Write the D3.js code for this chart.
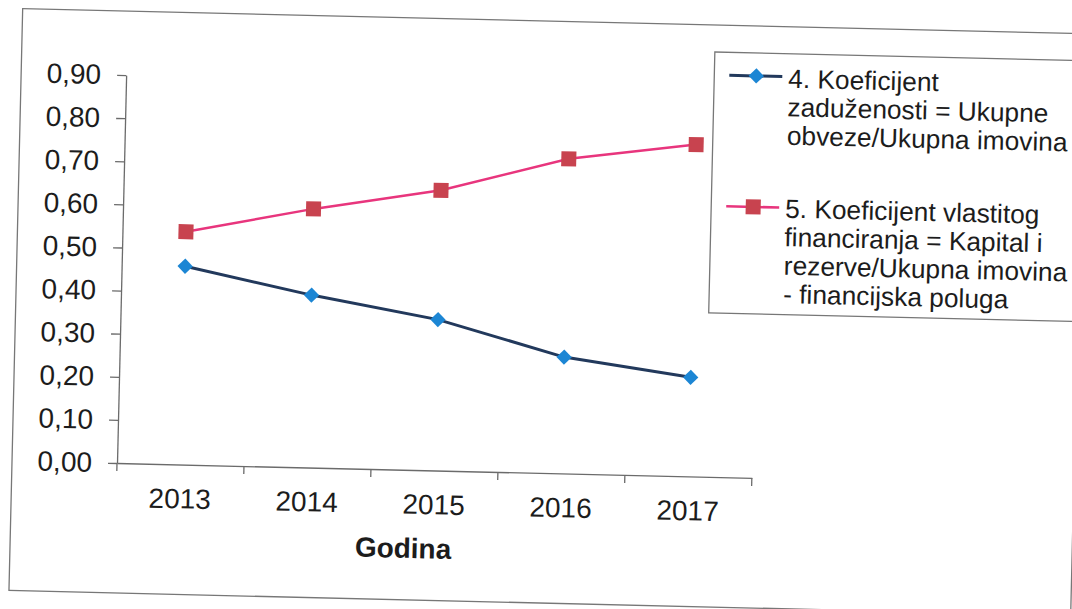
<!DOCTYPE html>
<html>
<head>
<meta charset="utf-8">
<script src="https://cdn.jsdelivr.net/npm/d3@7"></script>
<style>
    body { margin: 0; background: #ffffff; }
    svg { display: block; font-family: "Liberation Sans", Arial, sans-serif; }
    .axis path, .axis line { stroke: #6b6b6b; stroke-width: 1.3px; }
    .axis text { fill: #1c1c1c; font-size: 28px; }
</style>
</head>
<body>
<div id="chart"></div>
<script>
// Data
var years = ['2013', '2014', '2015', '2016', '2017'];
var zaduzenost = [0.46, 0.40, 0.35, 0.27, 0.23];       // 4. Koeficijent zaduzenosti
var vlastitoFin = [0.54, 0.60, 0.65, 0.73, 0.77];      // 5. Koeficijent vlastitog financiranja
var yTicks = [0, 0.1, 0.2, 0.3, 0.4, 0.5, 0.6, 0.7, 0.8, 0.9];
var legendLines = [
    ['4. Koeficijent', 'zaduženosti = Ukupne', 'obveze/Ukupna imovina'],
    ['5. Koeficijent vlastitog', 'financiranja = Kapital i', 'rezerve/Ukupna imovina', '- financijska poluga']
];
var xTitle = 'Godina';

var width = 1072, height = 609;
// plot area (before the page tilt of the scan)
var x0 = 117, x1 = 752, yBase = 463, yTop = 75;
var tilt = 1.35;

var hr = d3.formatLocale({ decimal: ',', thousands: '.', grouping: [3], currency: ['', ''] });
var fmt = hr.format('.2f');

var svg = d3.select('#chart').append('svg')
    .attr('width', width)
    .attr('height', height);

// whole sheet is slightly rotated, like the scan
var page = svg.append('g')
    .attr('transform', 'rotate(' + tilt + ',' + x0 + ',' + yBase + ')');

// outer chart frame
page.append('rect')
    .attr('x', 12).attr('y', 11)
    .attr('width', 1062).attr('height', 582)
    .attr('fill', 'none')
    .attr('stroke', '#777')
    .attr('stroke-width', 1.3);

var x = d3.scaleBand().domain(years).range([x0, x1]);
var y = d3.scaleLinear().domain([0, 0.9]).range([yBase, yTop]);

// y axis
page.append('g')
    .attr('class', 'axis')
    .attr('transform', 'translate(' + x0 + ',0)')
    .call(d3.axisLeft(y).tickValues(yTicks).tickFormat(fmt).tickSize(9).tickPadding(16).tickSizeOuter(0));

// x axis, ticks between categories like Excel
var xAxisG = page.append('g')
    .attr('class', 'axis')
    .attr('transform', 'translate(0,' + yBase + ')')
    .call(d3.axisBottom(x).tickSize(0).tickPadding(24).tickSizeOuter(0));
xAxisG.selectAll('.tick text').attr('dy', '0.71em');
xAxisG.selectAll('.sep')
    .data(d3.range(years.length + 1))
    .enter()
    .append('line')
        .attr('class', 'sep')
        .attr('x1', function(d) { return x0 + d * x.bandwidth(); })
        .attr('x2', function(d) { return x0 + d * x.bandwidth(); })
        .attr('y1', 0)
        .attr('y2', 8);

page.append('text')
    .attr('x', 405)
    .attr('y', 551)
    .attr('text-anchor', 'middle')
    .attr('font-size', 28)
    .attr('font-weight', 'bold')
    .attr('fill', '#1c1c1c')
    .text(xTitle);

function cx(d, i) { return x(years[i]) + x.bandwidth() / 2; }

var series = [
    { values: zaduzenost, line: '#22395c', fill: '#1c86d4', width: 3, marker: d3.symbolDiamond2, size: 150 },
    { values: vlastitoFin, line: '#e8357d', fill: '#c8434f', width: 2.5, marker: d3.symbolSquare, size: 225 }
];

var lineGen = d3.line()
    .x(cx)
    .y(function(d) { return y(d); });

series.forEach(function(s) {
    page.append('path')
        .datum(s.values)
        .attr('d', lineGen)
        .attr('fill', 'none')
        .attr('stroke', s.line)
        .attr('stroke-width', s.width);
    page.selectAll(null)
        .data(s.values)
        .enter()
        .append('path')
            .attr('transform', function(d, i) { return 'translate(' + cx(d, i) + ',' + y(d) + ')'; })
            .attr('d', d3.symbol().type(s.marker).size(s.size))
            .attr('fill', s.fill);
});

// legend box
var legend = page.append('g');
legend.append('rect')
    .attr('x', 705).attr('y', 38)
    .attr('width', 400).attr('height', 261)
    .attr('fill', '#ffffff')
    .attr('stroke', '#777')
    .attr('stroke-width', 1.3);

var legendTop = [72, 202];
var symbolY = [61, 192];
series.forEach(function(s, k) {
    legend.append('line')
        .attr('x1', 720).attr('x2', 773)
        .attr('y1', symbolY[k]).attr('y2', symbolY[k])
        .attr('stroke', s.line)
        .attr('stroke-width', s.width);
    legend.append('path')
        .attr('transform', 'translate(747,' + symbolY[k] + ')')
        .attr('d', d3.symbol().type(s.marker).size(s.size))
        .attr('fill', s.fill);
    var t = legend.append('text')
        .attr('font-size', 26.3)
        .attr('fill', '#1c1c1c');
    legendLines[k].forEach(function(str, j) {
        t.append('tspan')
            .attr('x', 779)
            .attr('y', legendTop[k] + j * 28.5)
            .text(str);
    });
});
</script>
</body>
</html>
